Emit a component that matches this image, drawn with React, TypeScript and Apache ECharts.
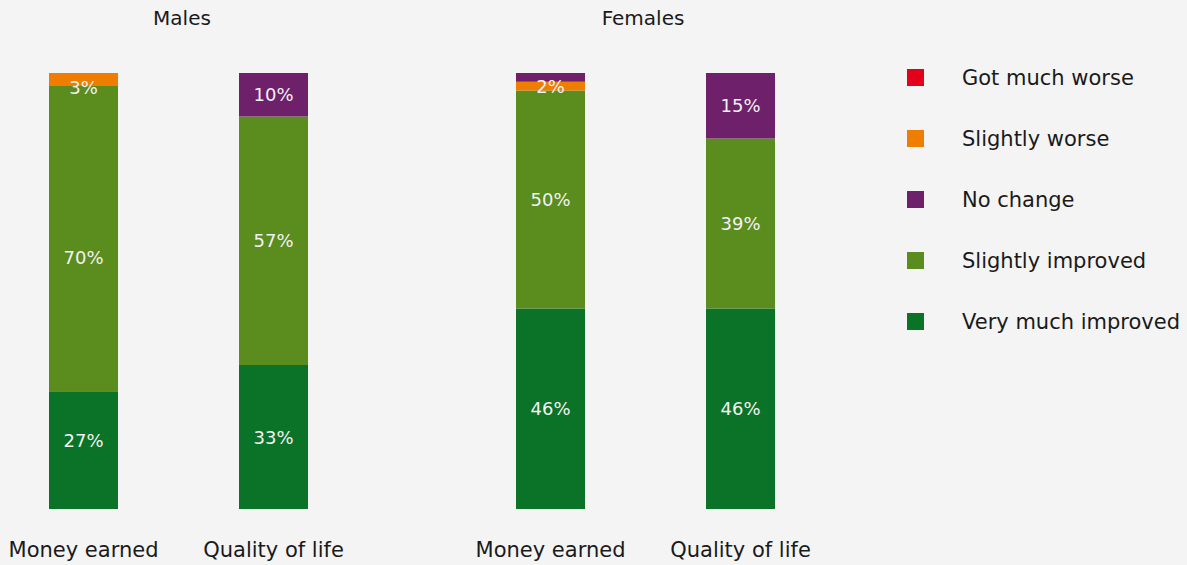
import React, { useEffect, useRef } from "react";
import * as echarts from "echarts";

const categories = ["Money earned", "Quality of life"];
const panels = ["Males", "Females"];
// stacking order, bottom to top
const seriesNames = [
  "Very much improved",
  "Slightly improved",
  "Slightly worse",
  "No change",
  "Got much worse",
];
const legendOrder = [
  "Got much worse",
  "Slightly worse",
  "No change",
  "Slightly improved",
  "Very much improved",
];

// Males: [Money earned, Quality of life]
const malesVeryMuchImproved = [27, 33];
const malesSlightlyImproved = [70, 57];
const malesSlightlyWorse = [3, 0];
const malesNoChange = [0, 10];
const malesGotMuchWorse = [0, 0];

// Females: [Money earned, Quality of life]
const femalesVeryMuchImproved = [46, 46];
const femalesSlightlyImproved = [50, 39];
const femalesSlightlyWorse = [2, 0];
const femalesNoChange = [2, 15];
const femalesGotMuchWorse = [0, 0];

const panelData = [
  [malesVeryMuchImproved, malesSlightlyImproved, malesSlightlyWorse, malesNoChange, malesGotMuchWorse],
  [femalesVeryMuchImproved, femalesSlightlyImproved, femalesSlightlyWorse, femalesNoChange, femalesGotMuchWorse],
];

// styling
const colors = ["#0a7328", "#5b8c1e", "#ef7d00", "#6e206b", "#e2001a"];
const hiddenLabels = ["Females|No change|0"];
const labelNudges: Record<string, number> = {
  "Males|Slightly improved|0": 19,
  "Males|Very much improved|0": -10,
  "Males|Slightly worse|0": 8,
};

const FONT = "DejaVu Sans";
const TEXT = "#1a1a1a";

export default function App() {
  const ref = useRef<HTMLDivElement>(null);
  useEffect(() => {
    if (!ref.current) return;
    const chart = echarts.init(ref.current, undefined, { renderer: "svg" });
    const gridLefts = [83.5, 550.5];
    const grids = gridLefts.map((l) => ({ left: l, width: 190, top: 73, height: 436, containLabel: false }));
    const xAxes = gridLefts.map((_, i) => ({
      type: "category" as const,
      gridIndex: i,
      data: categories,
      boundaryGap: false,
      axisLine: { show: false },
      axisTick: { show: false },
      axisLabel: { fontFamily: FONT, fontSize: 21, color: TEXT, margin: 30, interval: 0, hideOverlap: false },
    }));
    const yAxes = gridLefts.map((_, i) => ({
      type: "value" as const,
      gridIndex: i,
      min: 0,
      max: 100,
      show: false,
      splitLine: { show: false },
    }));
    const series: any[] = [];
    panels.forEach((panel, pi) => {
      seriesNames.forEach((name, si) => {
        series.push({
          type: "bar",
          name,
          xAxisIndex: pi,
          yAxisIndex: pi,
          stack: panel,
          barWidth: 69,
          itemStyle: { color: colors[si] },
          label: {
            show: true,
            position: "inside",
            color: "#f2f2f2",
            fontFamily: FONT,
            fontSize: 18,
            formatter: (p: any) => (p.value > 0 ? `${p.value}%` : ""),
          },
          data: panelData[pi][si].map((v, ci) => {
            const key = `${panel}|${name}|${ci}`;
            const item: any = { value: v };
            if (hiddenLabels.includes(key) || v === 0) item.label = { show: false };
            else if (labelNudges[key] !== undefined) item.label = { offset: [0, labelNudges[key]] };
            return item;
          }),
        });
      });
    });
    chart.setOption({
      animation: false,
      backgroundColor: "#f4f4f4",
      textStyle: { fontFamily: FONT },
      grid: grids,
      xAxis: xAxes,
      yAxis: yAxes,
      legend: {
        data: legendOrder,
        orient: "vertical",
        left: 907,
        top: 67,
        padding: 0,
        itemWidth: 17,
        itemHeight: 17,
        itemGap: 40,
        icon: "rect",
        selectedMode: false,
        textStyle: { fontFamily: FONT, fontSize: 21, color: TEXT, lineHeight: 20, padding: [0, 0, 0, 33] },
      },
      graphic: panels.map((p, i) => ({
        type: "text",
        x: [182, 643][i],
        y: 18,
        style: {
          text: p,
          fontFamily: FONT,
          fontSize: 20,
          fill: TEXT,
          textAlign: "center",
          textVerticalAlign: "middle",
        },
      })),
      series,
    });
    return () => chart.dispose();
  }, []);
  return (
    <div
      ref={ref}
      style={{ position: "fixed", left: 0, top: 0, width: 1187, height: 565 }}
    />
  );
}
